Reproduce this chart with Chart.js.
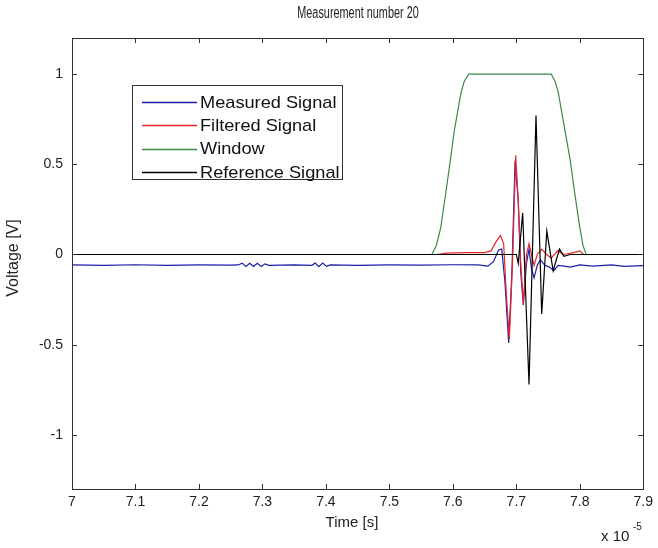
<!DOCTYPE html>
<html><head><meta charset="utf-8">
<script src="https://cdn.jsdelivr.net/npm/chart.js@4/dist/chart.umd.min.js"></script>
<style>html,body{margin:0;padding:0;background:#fff}#wrap{width:658px;height:548px}</style>
</head><body><div id="wrap"><canvas id="c" width="658" height="548"></canvas></div>
<script>
const titleText = 'Measurement number 20';
const xTitle = 'Time [s]';
const yTitle = 'Voltage [V]';
const xTicks = [7, 7.1, 7.2, 7.3, 7.4, 7.5, 7.6, 7.7, 7.8, 7.9];
const yTicks = [-1, -0.5, 0, 0.5, 1];
const seriesNames = ['Measured Signal', 'Filtered Signal', 'Window', 'Reference Signal'];

const measuredT = [7.000,7.050,7.100,7.150,7.200,7.250,7.262,7.268,7.274,7.280,7.286,7.292,7.298,7.304,7.310,7.350,7.378,7.383,7.389,7.395,7.401,7.407,7.450,7.500,7.550,7.600,7.640,7.655,7.664,7.672,7.677,7.682,7.688,7.693,7.698,7.703,7.707,7.711,7.716,7.720,7.724,7.728,7.733,7.738,7.745,7.752,7.759,7.766,7.775,7.785,7.800,7.820,7.850,7.870,7.900];
const measuredV = [-0.058,-0.060,-0.057,-0.060,-0.058,-0.059,-0.058,-0.048,-0.066,-0.049,-0.067,-0.049,-0.066,-0.052,-0.060,-0.058,-0.060,-0.047,-0.068,-0.047,-0.066,-0.058,-0.060,-0.058,-0.059,-0.057,-0.058,-0.065,-0.040,0.025,0.030,-0.150,-0.490,-0.100,0.520,0.300,-0.100,-0.280,-0.050,0.030,-0.080,-0.130,-0.060,-0.030,-0.060,-0.070,-0.090,-0.060,-0.065,-0.070,-0.058,-0.065,-0.058,-0.066,-0.062];

const filteredT = [7.000,7.575,7.590,7.620,7.650,7.660,7.668,7.675,7.680,7.684,7.689,7.694,7.699,7.703,7.707,7.711,7.716,7.720,7.724,7.728,7.733,7.740,7.748,7.755,7.765,7.775,7.790,7.800,7.806,7.900];
const filteredV = [0,0,0.008,0.010,0.010,0.020,0.070,0.105,0.060,-0.200,-0.470,-0.050,0.550,0.300,-0.050,-0.270,0.000,0.060,0.000,-0.060,0.000,0.030,0.000,-0.020,0.020,0.000,0.010,0.020,0.000,0];

const windowT = [7.000,7.567,7.574,7.581,7.588,7.596,7.602,7.608,7.613,7.618,7.625,7.755,7.761,7.766,7.771,7.778,7.785,7.792,7.800,7.805,7.810,7.900];
const windowV = [0,0,0.05,0.15,0.32,0.52,0.68,0.80,0.90,0.96,1,1,0.96,0.90,0.80,0.66,0.52,0.34,0.15,0.05,0,0];

const referenceT = [7.000,7.700,7.703,7.710,7.720,7.731,7.740,7.748,7.758,7.768,7.775,7.785,7.900];
const referenceV = [0,0,-0.05,0.23,-0.72,0.77,-0.33,0.13,-0.09,0.03,-0.01,0,0];

const colors = ['#1c1ca8', '#e8262a', '#3a8a4a', '#000000'];
const toPts = (t, v) => t.map((x, i) => ({x: x, y: v[i]}));
const allT = [measuredT, filteredT, windowT, referenceT];
const allV = [measuredV, filteredV, windowV, referenceV];
const drawOrder = [3, 2, 1, 0];

const FONT = '"Liberation Sans", Arial, sans-serif';

const decor = {
  id: 'decor',
  afterDraw(chart) {
    const ctx = chart.ctx, a = chart.chartArea;
    const xs = chart.scales.x, ys = chart.scales.y;
    ctx.save();
    ctx.strokeStyle = '#333';
    ctx.lineWidth = 1;
    ctx.strokeRect(Math.round(a.left) + 0.5, Math.round(a.top) + 0.5, Math.round(a.right - a.left), Math.round(a.bottom - a.top));
    ctx.beginPath();
    const tl = 5;
    xTicks.forEach(v => {
      const px = Math.round(xs.getPixelForValue(v)) + 0.5;
      ctx.moveTo(px, a.bottom); ctx.lineTo(px, a.bottom - tl);
      ctx.moveTo(px, a.top); ctx.lineTo(px, a.top + tl);
    });
    yTicks.forEach(v => {
      const py = Math.round(ys.getPixelForValue(v)) + 0.5;
      ctx.moveTo(a.left, py); ctx.lineTo(a.left + tl, py);
      ctx.moveTo(a.right, py); ctx.lineTo(a.right - tl, py);
    });
    ctx.stroke();

    ctx.fillStyle = '#222';
    ctx.textAlign = 'center';
    ctx.textBaseline = 'middle';
    ctx.save();
    ctx.translate(358, 14);
    ctx.scale(0.68, 1);
    ctx.font = '16px ' + FONT;
    ctx.fillText(titleText, 0, 0);
    ctx.restore();
    ctx.font = '15px ' + FONT;
    ctx.fillText(xTitle, 352, 523);
    ctx.save();
    ctx.translate(14, 258);
    ctx.rotate(-Math.PI / 2);
    ctx.font = '16px ' + FONT;
    ctx.fillText(yTitle, 0, 0);
    ctx.restore();
    ctx.textAlign = 'left';
    ctx.font = '15px ' + FONT;
    ctx.fillText('x 10', 601, 537);
    ctx.font = '10px ' + FONT;
    ctx.fillText('-5', 633, 527);

    // legend
    const lx = 132, ly = 85, lw = 210, lh = 94;
    ctx.fillStyle = '#fff';
    ctx.fillRect(lx, ly, lw, lh);
    ctx.strokeStyle = '#333';
    ctx.lineWidth = 1;
    ctx.strokeRect(lx + 0.5, ly + 0.5, lw, lh);
    ctx.textBaseline = 'middle';
    seriesNames.forEach((n, i) => {
      const yy = 102 + i * 23.3;
      ctx.strokeStyle = colors[i];
      ctx.lineWidth = 1.3;
      ctx.beginPath();
      ctx.moveTo(142, Math.round(yy) + 0.5); ctx.lineTo(197, Math.round(yy) + 0.5);
      ctx.stroke();
      ctx.fillStyle = '#111';
      ctx.save();
      ctx.translate(200, yy + 1);
      ctx.scale(1.07, 1);
      ctx.font = '17px ' + FONT;
      ctx.fillText(n, 0, 0);
      ctx.restore();
    });
    ctx.restore();
  }
};

new Chart(document.getElementById('c'), {
  type: 'line',
  data: {
    datasets: seriesNames.map((n, i) => ({
      label: n,
      data: toPts(allT[i], allV[i]),
      borderColor: colors[i],
      backgroundColor: colors[i],
      borderWidth: 1.2,
      pointRadius: 0,
      tension: 0,
      fill: false,
      order: drawOrder[i]
    }))
  },
  options: {
    responsive: false,
    animation: false,
    devicePixelRatio: 1,
    layout: { padding: { top: 38, right: 14, left: 0, bottom: 0 } },
    plugins: { legend: { display: false }, title: { display: false }, tooltip: { enabled: false } },
    scales: {
      x: {
        type: 'linear', min: 7, max: 7.9,
        afterBuildTicks: s => { s.ticks = xTicks.map(v => ({ value: v })); },
        afterFit: s => { s.height = 59; },
        grid: { drawOnChartArea: false, drawTicks: false },
        border: { display: true, color: '#333', width: 1 },
        ticks: { padding: 5, color: '#222', font: { size: 14, family: FONT }, maxRotation: 0, autoSkip: false,
          callback: v => String(Math.round(v * 10) / 10) }
      },
      y: {
        type: 'linear', min: -1.3, max: 1.2,
        afterBuildTicks: s => { s.ticks = yTicks.map(v => ({ value: v })); },
        afterFit: s => { s.width = 72; },
        grid: { drawOnChartArea: false, drawTicks: false },
        border: { display: true, color: '#333', width: 1 },
        ticks: { padding: 9, color: '#222', font: { size: 14, family: FONT },
          callback: v => String(v) }
      }
    }
  },
  plugins: [decor]
});
</script></body></html>
